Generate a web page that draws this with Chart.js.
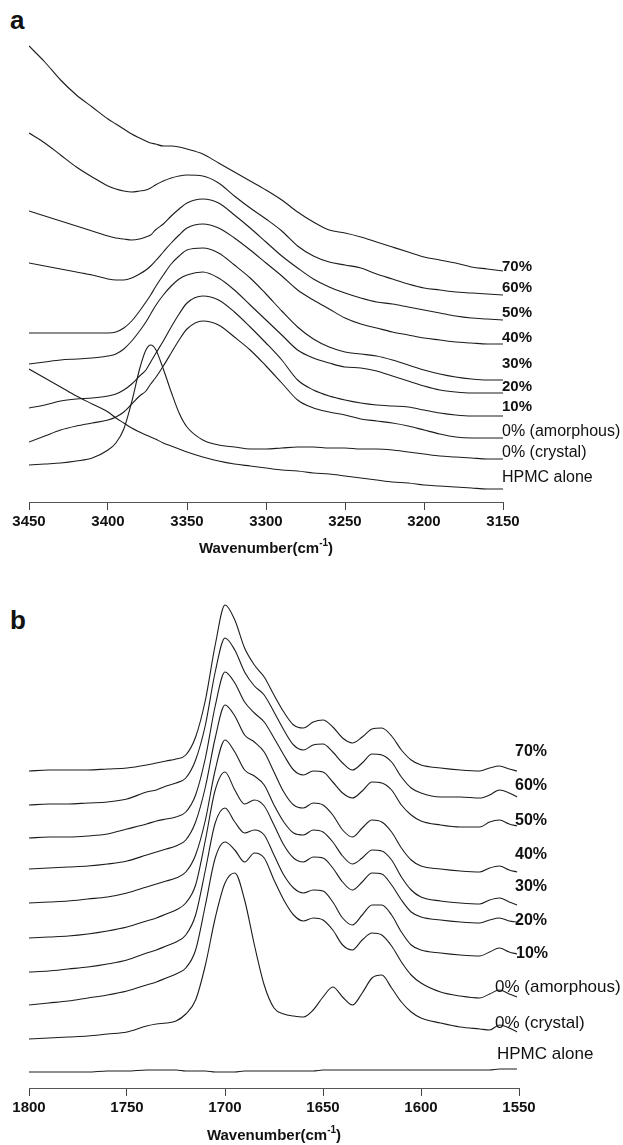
<!DOCTYPE html>
<html lang="fr">
<head>
<meta charset="utf-8">
<script src="https://cdn.jsdelivr.net/npm/chart.js@4.4.1/dist/chart.umd.min.js"></script>
<style>
  body { margin: 0; background: #fff; width: 623px; height: 1145px; position: relative; overflow: hidden;
         font-family: 'Liberation Sans', Arial, sans-serif; }
  .panneau { position: absolute; left: 0; width: 623px; }
  #panneau-a { top: 0; height: 560px; }
  #panneau-b { top: 560px; height: 585px; }
  .lettre { position: absolute; font-weight: bold; font-size: 26px; line-height: 1; color: #111; }
</style>
</head>
<body>
<div class="lettre" style="left:10px;top:7px">a</div>
<div class="lettre" style="left:10px;top:607px">b</div>
<div class="panneau" id="panneau-a"><canvas id="chart-a" width="623" height="560"></canvas></div>
<div class="panneau" id="panneau-b"><canvas id="chart-b" width="623" height="585"></canvas></div>
<script>
/* ============================================================
   Spectres IR empilés — (a) région O–H / N–H, (b) région C=O
   Intensités en unités arbitraires (décalées verticalement)
   ============================================================ */

/* ── Données panneau a : 3450 → 3150 cm-1 ────────────────── */
const nombresOndeA = [3450, 3440, 3430, 3420, 3410, 3400, 3395, 3390, 3385, 3380, 3376, 3373, 3370,
  3365, 3360, 3355, 3350, 3340, 3330, 3320, 3310, 3300, 3290, 3280, 3270, 3260, 3250, 3240, 3230,
  3220, 3210, 3200, 3190, 3180, 3170, 3160, 3150];
const graduationsA = [3450, 3400, 3350, 3300, 3250, 3200, 3150];

const a70 = [456,440,422,407,395,383,378,373,368,364,361,359,358,356,356,355,353,348,339,330,321,312,302,290,280,272,269,265,260,255,250,245,242,239,235,233,231];
const a60 = [369,359,347,335,325,316,313,311,310,311,312,314,317,321,324,326,327,326,319,306,294,283,271,256,246,240,237,234,228,223,218,214,212,210,209,208,207];
const a50 = [291,286,281,276,271,266,264,263,262,263,265,267,272,278,286,293,299,303,299,287,274,260,246,234,223,215,209,204,200,198,195,192,189,186,184,183,182];
const a40 = [239,236,233,230,227,223,222,222,224,228,232,236,241,250,259,267,274,278,274,264,252,239,226,212,202,193,184,178,174,170,167,164,162,160,159,158,158];
const a30 = [169,169,169,169,169,169,170,174,181,191,200,207,215,227,238,246,252,254,249,237,224,208,191,175,163,155,150,148,146,142,137,132,128,125,123,122,122];
const a20 = [138,140,142,143,144,146,148,153,161,171,180,188,196,207,216,223,227,230,224,212,197,182,167,152,144,139,135,134,131,126,121,116,112,110,109,109,109];
const a10 = [94,97,101,103,104,106,108,112,118,126,132,140,148,161,175,188,199,206,202,190,175,159,142,122,112,106,102,99,97,96,95,92,89,87,86,86,86];
const aAmorphe = [60,66,72,76,79,82,85,90,98,106,111,118,124,136,149,162,173,181,177,165,152,136,119,102,94,90,87,83,81,79,76,72,68,65,64,64,64];
const aCristal = [37,38,39,41,44,52,59,73,100,133,152,157,153,133,110,89,75,62,57,55,53,53,54,55,55,54,54,53,53,52,50,48,46,45,44,43,43];
const aHPMC = [133,124,115,106,98,90,84,79,74,70,67,65,63,59,56,53,50,45,41,38,36,34,32,31,29,28,26,24,22,20,19,17,16,15,14,13,13];

/* ── Données panneau b : 1800 → 1551 cm-1 ────────────────── */
const nombresOndeB = [1800, 1790, 1780, 1770, 1760, 1750, 1740, 1735, 1730, 1725, 1720, 1715, 1710,
  1705, 1700, 1695, 1690, 1685, 1680, 1675, 1670, 1665, 1660, 1655, 1650, 1645, 1640, 1635, 1630,
  1625, 1620, 1615, 1610, 1605, 1600, 1590, 1580, 1570, 1565, 1560, 1555, 1551];
const graduationsB = [1800, 1750, 1700, 1650, 1600, 1550];

const b70 = [317,318,318,318,319,320,323,325,327,329,333,351,388,443,483,468,440,423,411,393,376,363,360,366,368,361,350,345,351,359,360,352,338,328,323,320,318,317,320,322,319,317];
const b60 = [283,284,284,285,286,289,296,298,302,305,310,328,363,416,450,438,416,402,393,376,358,343,338,343,344,336,325,318,325,334,333,326,311,300,295,291,291,290,293,298,295,291];
const b50 = [250,251,251,252,254,259,264,267,269,271,276,293,330,382,416,405,386,375,366,350,333,318,313,317,316,306,295,290,297,306,305,298,283,273,267,263,261,261,266,268,264,262];
const b40 = [219,220,221,222,224,227,233,236,239,242,248,266,301,350,383,372,353,346,336,316,296,283,280,285,283,273,258,251,260,268,266,256,240,228,222,219,217,216,220,222,218,216];
const b30 = [185,186,187,189,191,195,201,204,207,210,216,233,268,318,348,336,318,312,303,283,266,255,253,258,256,246,232,224,230,238,237,228,211,198,191,187,185,184,188,190,186,183];
const b20 = [150,151,152,154,157,161,167,170,174,178,185,203,248,298,316,298,284,288,282,263,243,230,226,231,230,220,206,198,206,215,214,203,188,176,171,168,166,165,168,170,167,166];
const b10 = [116,117,119,121,124,128,135,138,142,146,153,173,218,265,280,266,255,258,253,233,213,200,195,198,197,186,170,163,173,183,183,173,156,143,138,135,133,132,136,140,136,134];
const bAmorphe = [83,85,87,90,93,97,103,106,110,114,120,138,183,230,246,238,226,235,230,208,188,173,167,170,168,158,143,138,148,155,153,142,126,113,105,96,92,90,94,98,94,91];
const bCristal = [49,50,51,52,54,56,62,64,65,67,74,88,123,170,205,215,188,143,103,80,74,72,71,78,91,101,91,83,95,110,113,100,86,76,70,65,61,59,58,63,60,56];
const bHPMC = [16,16,16,16,17,17,18,18,18,18,17,17,17,16,16,16,17,17,17,17,17,17,17,17,18,18,18,18,18,18,18,18,18,18,18,18,18,18,18,19,19,19];

const libelles = ['70%', '60%', '50%', '40%', '30%', '20%', '10%', '0% (amorphous)', '0% (crystal)', 'HPMC alone'];

/* ── Style commun ─────────────────────────────────────────── */
const POLICE = "'Liberation Sans', Arial, sans-serif";
const COULEUR_TRAIT = '#1c1c1c';

/* Construit une série {x,y} à partir d'un tableau de valeurs */
function construireSerie(label, valeurs, nombresOnde, decalX, decalY) {
  return {
    label,
    data: valeurs.map((v, i) => ({ x: nombresOnde[i], y: v })),
    borderColor: COULEUR_TRAIT,
    borderWidth: 1.1,
    pointRadius: 0,
    fill: false,
    cubicInterpolationMode: 'monotone',
    decalX,
    decalY,
  };
}

/* ── Plugin : étiquettes en bout de courbe ────────────────── */
const pluginEtiquettes = {
  id: 'etiquettes',
  afterDatasetsDraw(chart, args, opts) {
    const ctx = chart.ctx;
    ctx.save();
    ctx.fillStyle = '#111';
    ctx.textBaseline = 'middle';
    ctx.textAlign = 'left';
    chart.data.datasets.forEach((ds, i) => {
      const pts = chart.getDatasetMeta(i).data;
      const dernier = pts[pts.length - 1];
      /* pourcentages en gras, libellés texte en normal */
      ctx.font = ds.label.endsWith('%') ? opts.policeGras : opts.police;
      ctx.fillText(ds.label, chart.chartArea.right + ds.decalX, dernier.y + ds.decalY);
    });
    ctx.restore();
  },
};

/* ── Plugin : titre d'axe avec exposant ───────────────────── */
const pluginTitreAxe = {
  id: 'titreAxe',
  afterDraw(chart, args, opts) {
    const ctx = chart.ctx;
    const { left, right, bottom } = chart.chartArea;
    const base = 'Wavenumber(cm';
    const expo = '-1';
    const fin = ')';
    ctx.save();
    ctx.fillStyle = '#111';
    ctx.textBaseline = 'alphabetic';
    ctx.font = `bold 15px ${POLICE}`;
    const lBase = ctx.measureText(base).width;
    const lFin = ctx.measureText(fin).width;
    ctx.font = `bold 10px ${POLICE}`;
    const lExpo = ctx.measureText(expo).width;
    let x = (left + right) / 2 - (lBase + lExpo + lFin) / 2;
    const y = bottom + opts.decalage;
    ctx.font = `bold 15px ${POLICE}`;
    ctx.fillText(base, x, y);
    x += lBase;
    ctx.font = `bold 10px ${POLICE}`;
    ctx.fillText(expo, x, y - 7);
    x += lExpo;
    ctx.font = `bold 15px ${POLICE}`;
    ctx.fillText(fin, x, y);
    ctx.restore();
  },
};

/* ── Création d'un panneau ────────────────────────────────── */
function creerPanneau(idCanvas, series, cfg) {
  const ctx = document.getElementById(idCanvas).getContext('2d');
  return new Chart(ctx, {
    type: 'line',
    data: { datasets: series },
    plugins: [pluginEtiquettes, pluginTitreAxe],
    options: {
      responsive: false,
      devicePixelRatio: 1,
      animation: false,
      layout: { padding: cfg.marges },
      plugins: {
        legend: { display: false },
        tooltip: { enabled: false },
        etiquettes: { police: cfg.policeEtiquettes, policeGras: cfg.policeGras },
        titreAxe: { decalage: cfg.decalageTitre },
      },
      scales: {
        x: {
          type: 'linear',
          reverse: true,
          min: cfg.xMin,
          max: cfg.xMax,
          afterFit: s => { s.height = 50; },
          afterBuildTicks: s => { s.ticks = cfg.graduations.map(v => ({ value: v })); },
          ticks: {
            color: '#111',
            padding: 3,
            maxRotation: 0,
            autoSkip: false,
            font: { family: POLICE, size: 15, weight: 'bold' },
            callback: v => String(v),
          },
          grid: { drawOnChartArea: false, drawTicks: true, tickLength: 8, color: '#444', lineWidth: 1 },
          border: { display: true, color: '#555', dash: [1, 1] },
        },
        y: { display: false, min: 0, max: cfg.yMax },
      },
    },
  });
}

/* Panneau a */
const valeursA = [a70, a60, a50, a40, a30, a20, a10, aAmorphe, aCristal, aHPMC];
const decalYA = [-4, -7, -7, -6, -16, -6, -9, -6, -6, -11];
creerPanneau('chart-a',
  valeursA.map((v, i) => construireSerie(libelles[i], v, nombresOndeA, -1, decalYA[i])),
  { marges: { left: 29, right: 120, top: 40, bottom: 8 }, xMin: 3150, xMax: 3450, yMax: 462,
    graduations: graduationsA, policeEtiquettes: `16px ${POLICE}`, policeGras: `bold 15px ${POLICE}`,
    decalageTitre: 51 });

/* Panneau b */
const valeursB = [b70, b60, b50, b40, b30, b20, b10, bAmorphe, bCristal, bHPMC];
const decalYB = [-19, -11, -5, -17, -18, -1, 0, -10, -9, -15];
const decalXB = [-4, -4, -4, -4, -4, -4, -3, -24, -24, -22];
creerPanneau('chart-b',
  valeursB.map((v, i) => construireSerie(libelles[i], v, nombresOndeB, decalXB[i], decalYB[i])),
  { marges: { left: 29, right: 104, top: 30, bottom: 7 }, xMin: 1550, xMax: 1800, yMax: 498,
    graduations: graduationsB, policeEtiquettes: `17px ${POLICE}`, policeGras: `bold 16px ${POLICE}`,
    decalageTitre: 52 });
</script>
</body>
</html>
